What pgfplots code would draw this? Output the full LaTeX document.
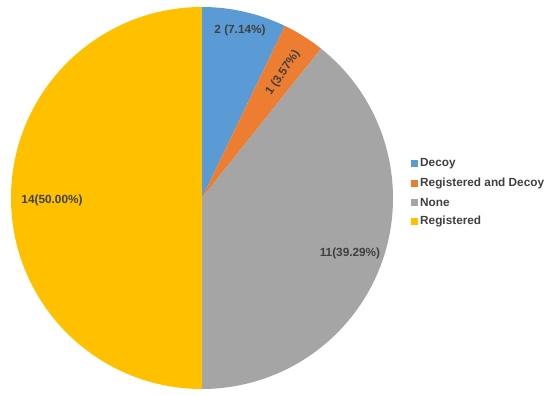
\documentclass[border=0pt]{standalone}
\usepackage{pgfplots}
\usepackage{pgfplotstable}
\pgfplotsset{compat=1.18}
\usepackage{fontspec}
\setmainfont{Liberation Sans}
\definecolor{pieblue}{HTML}{5B9BD5}
\definecolor{pieorange}{HTML}{ED7D31}
\definecolor{piegray}{HTML}{A5A5A5}
\definecolor{pieyellow}{HTML}{FFC000}
\definecolor{labelgray}{HTML}{404040}

\pgfplotstableread[col sep=comma]{
label,value,color
Decoy,2,pieblue
Registered and Decoy,1,pieorange
None,11,piegray
Registered,14,pieyellow
}\piedata

\begin{document}
\begin{tikzpicture}
\begin{axis}[
  x=1pt, y=1pt,
  xmin=0, xmax=550, ymin=0, ymax=396,
  hide axis, clip=false,
  scale only axis,
]
\path (axis cs:0,0) rectangle (axis cs:550,396);
\pgfplotsextra{%
  % total
  \gdef\pietotal{0}%
  \foreach \i in {0,...,3}{%
    \pgfplotstablegetelem{\i}{value}\of\piedata
    \pgfmathsetmacro\tmp{\pietotal+\pgfplotsretval}%
    \global\let\pietotal\tmp
  }%
  \gdef\angA{90}%
  \foreach \i in {0,...,3}{%
    \pgfplotstablegetelem{\i}{value}\of\piedata \let\v\pgfplotsretval
    \pgfplotstablegetelem{\i}{color}\of\piedata \let\c\pgfplotsretval
    \pgfplotstablegetelem{\i}{label}\of\piedata \let\lab\pgfplotsretval
    \pgfmathsetmacro\angB{\angA-\v/\pietotal*360}%
    \fill[\c] (axis cs:202,198) -- ++(\angA:191pt)
       arc[start angle=\angA, end angle=\angB, radius=191pt] -- cycle;
    \global\let\angA\angB
    % legend
    \pgfmathsetmacro\ly{396-164-19.3*\i}%
    \fill[\c] (axis cs:411,\ly) ++(0,-3.5pt) rectangle ++(7pt,7pt);
    \node[anchor=west, inner sep=0pt, text=labelgray, font=\fontsize{11.8}{13}\selectfont\bfseries]
       at (axis cs:420,\ly) {\lab};
  }%
  \begingroup
  \tikzset{every node/.style={text=labelgray, font=\fontsize{11.8}{13}\selectfont\bfseries}}
  \node at (axis cs:240,366) {2 (7.14\%)};
  \node[rotate=56] at (axis cs:283,323) {1 (3.57\%)};
  \node at (axis cs:350,143) {11(39.29\%)};
  \node at (axis cs:52,196) {14(50.00\%)};
  \endgroup
}
\end{axis}
\end{tikzpicture}
\end{document}
